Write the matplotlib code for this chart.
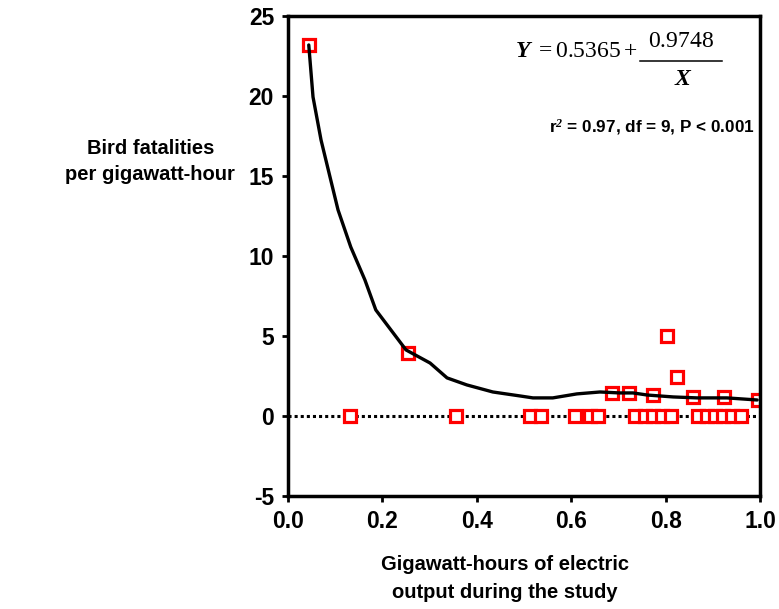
#!/usr/bin/env python3

import matplotlib
matplotlib.use("Agg")
import matplotlib.pyplot as plt

# observed points (gigawatt-hours, fatalities per GWh)
gwh_obs = [0.044, 0.254, 0.686, 0.722, 0.773, 0.803, 0.824, 0.858, 0.924, 0.995]
fat_obs = [23.2, 3.94, 1.44, 1.44, 1.31, 5.0, 2.44, 1.19, 1.19, 1.0]

gwh_zero = [0.131, 0.356, 0.513, 0.536, 0.608, 0.640, 0.657, 0.735, 0.756,
            0.773, 0.792, 0.811, 0.869, 0.888, 0.905, 0.922, 0.941, 0.960]
fat_zero = [0.0] * len(gwh_zero)

# fitted curve as drawn in the figure
curve_x = [0.044, 0.053, 0.070, 0.089, 0.106, 0.133, 0.163, 0.186, 0.218,
           0.250, 0.258, 0.301, 0.337, 0.379, 0.434, 0.492, 0.519, 0.561,
           0.612, 0.661, 0.703, 0.731, 0.761, 0.816, 0.867, 0.930, 0.994]
curve_y = [23.19, 19.94, 17.25, 14.94, 12.88, 10.56, 8.5, 6.63, 5.38,
           4.13, 4.0, 3.31, 2.38, 1.94, 1.5, 1.25, 1.13, 1.13,
           1.38, 1.5, 1.44, 1.44, 1.31, 1.19, 1.13, 1.13, 1.0]

x_ticks = [0.0, 0.2, 0.4, 0.6, 0.8, 1.0]
y_ticks = [-5, 0, 5, 10, 15, 20, 25]

plt.rcParams["font.family"] = ["Liberation Sans", "DejaVu Sans"]
plt.rcParams["axes.unicode_minus"] = False
plt.rcParams["mathtext.fontset"] = "custom"
plt.rcParams["mathtext.rm"] = "Liberation Serif:weight=normal"
plt.rcParams["mathtext.it"] = "Liberation Serif:italic:weight=normal"
plt.rcParams["mathtext.bf"] = "Liberation Serif:italic:bold"


def main():
    fig = plt.figure(figsize=(7.79, 6.09), dpi=100)
    ax = fig.add_axes([0.3697, 0.1856, 0.6059, 0.7881])

    ax.plot([0, 1], [0, 0], color="black", linestyle=(0, (1, 1)),
            linewidth=2.2, zorder=1)

    mk = dict(marker="s", markersize=8.5, markerfacecolor="white",
              markeredgecolor="#ff0000", markeredgewidth=2.3,
              linestyle="none", zorder=2)
    ax.plot(gwh_zero, fat_zero, **mk)
    ax.plot(gwh_obs, fat_obs, **mk)

    ax.plot(curve_x, curve_y, color="black", linewidth=2.4, zorder=3,
            solid_capstyle="round")

    ax.set_xlim(0, 1)
    ax.set_ylim(-5, 25)
    ax.set_xticks(x_ticks)
    ax.set_xticklabels([f"{t:.1f}" for t in x_ticks])
    ax.set_yticks(y_ticks)
    ax.tick_params(direction="out", length=4, width=2, labelsize=16.5, pad=6)
    for lbl in ax.get_xticklabels() + ax.get_yticklabels():
        lbl.set_fontweight("bold")
    for s in ax.spines.values():
        s.set_linewidth(2.5)

    # regression equation, built as a stacked fraction
    eq_size = 17
    ax.text(0.741, 22.44, r"$\mathbf{Y}\ =0.5365+$", fontsize=eq_size,
            ha="right", va="baseline")
    ax.text(0.833, 23.06, r"$0.9748$", fontsize=eq_size,
            ha="center", va="baseline")
    ax.text(0.837, 20.69, r"$\mathbf{X}$", fontsize=eq_size,
            ha="center", va="baseline")
    ax.plot([0.746, 0.919], [22.19, 22.19], color="black", linewidth=1.1,
            zorder=3)

    ax.text(0.989, 18.05, r"r$^\mathsf{\mathbf{2}}$ = 0.97, df = 9, P < 0.001",
            fontsize=12.3, fontweight="bold", ha="right", va="center")

    fig.text(0.193, 0.735, "Bird fatalities\nper gigawatt-hour",
             fontsize=14.5, fontweight="bold", ha="center", va="center",
             linespacing=1.45)
    fig.text(0.648, 0.05, "Gigawatt-hours of electric\noutput during the study",
             fontsize=14.5, fontweight="bold", ha="center", va="center",
             linespacing=1.55)

    fig.savefig("out.png", dpi=100)
    plt.close(fig)


if __name__ == "__main__":
    main()
